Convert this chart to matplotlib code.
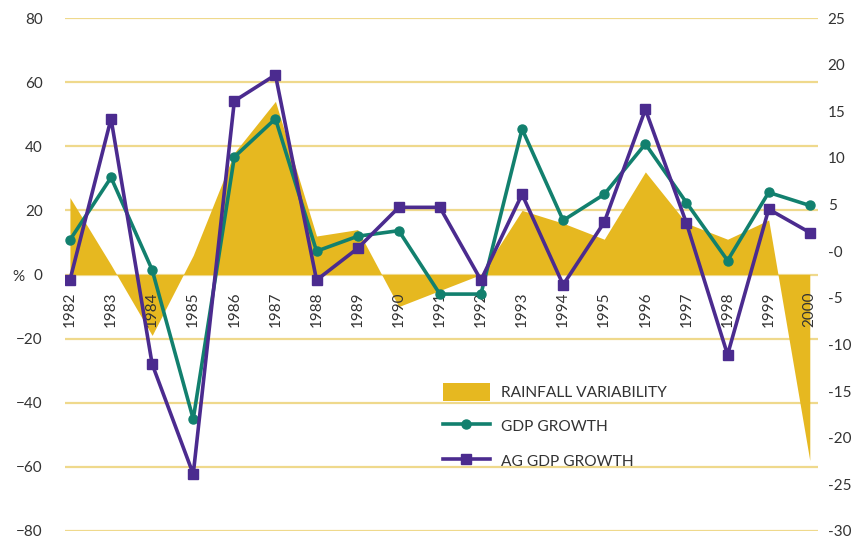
import numpy as np
import matplotlib.pyplot as plt
from matplotlib.patches import Patch
from matplotlib.lines import Line2D

plt.rcParams['font.family'] = ['Lato', 'DejaVu Sans']

years = [str(y) for y in range(1982, 2001)]
# rainfall variability, % (left axis)
rainfall = [24, 3, -19, 6, 38, 54, 12, 14, -10, -5, 0, 20, 16, 11, 32, 16, 11, 17, -58]
# growth rates, % (right axis)
gdp_growth = [1.2, 7.9, -2.0, -18.0, 10.1, 14.2, 0.0, 1.6, 2.2, -4.6, -4.6, 13.1,
              3.3, 6.1, 11.5, 5.2, -1.0, 6.3, 4.9]
ag_gdp_growth = [-3.1, 14.2, -12.1, -23.9, 16.1, 18.9, -3.1, 0.3, 4.7, 4.7, -3.1, 6.1,
                 -3.6, 3.1, 15.2, 3.0, -11.1, 4.5, 2.0]

left_ticks = list(range(-80, 81, 20))
right_ticks = list(range(-30, 26, 5))

GOLD = '#E6B820'
GRID = '#EFD98C'
GREEN = '#12806E'
PURPLE = '#4B2B8F'
TEXT = '#333333'

fig = plt.figure(figsize=(8.52, 5.39), dpi=100)
ax = fig.add_axes([65 / 852, 1 - 531 / 539, (818 - 65) / 852, (531 - 18) / 539])
x = np.arange(len(years))

ax.fill_between(x, rainfall, 0, color=GOLD, linewidth=0, zorder=2)
ax.set_xlim(-0.12, 18.2)
ax.set_ylim(-80, 80)
ax.set_yticks(left_ticks)
ax.set_xticks([])
ax.grid(axis='y', color=GRID, linewidth=1.6, zorder=0)
ax.set_axisbelow(True)
ax.tick_params(axis='y', length=0, pad=16, labelsize=11, labelcolor=TEXT)
for s in ax.spines.values():
    s.set_visible(False)

for i, yr in enumerate(years):
    ax.annotate(yr, (i, 0), xytext=(0, -12), textcoords='offset points',
                rotation=90, ha='center', va='top', fontsize=11, color=TEXT, zorder=3)

ax2 = ax.twinx()
ax2.set_ylim(-30, 25)
ax2.set_yticks(right_ticks)
ax2.set_yticklabels(['-0' if t == 0 else str(t) for t in right_ticks])
ax2.tick_params(axis='y', length=0, pad=7, labelsize=11, labelcolor=TEXT)
for s in ax2.spines.values():
    s.set_visible(False)

ax2.plot(x, gdp_growth, color=GREEN, linewidth=2.6, marker='o', markersize=6.5, zorder=4)
ax2.plot(x, ag_gdp_growth, color=PURPLE, linewidth=2.6, marker='s', markersize=7.5, zorder=5)

fig.text(18 / 852, 1 - 277 / 539, '%', ha='center', va='center', fontsize=11, color=TEXT)

handles = [
    Patch(facecolor=GOLD, edgecolor='none'),
    Line2D([], [], color=GREEN, linewidth=2.6, marker='o', markersize=6.5),
    Line2D([], [], color=PURPLE, linewidth=2.6, marker='s', markersize=7.5),
]
labels = ['RAINFALL VARIABILITY', 'GDP GROWTH', 'AG GDP GROWTH']
leg = ax2.legend(handles, labels, loc='upper left', bbox_to_anchor=(443 / 852, 1 - 383 / 539),
                 bbox_transform=fig.transFigure, frameon=False, fontsize=11.2,
                 handlelength=3.0, handleheight=1.4, handletextpad=0.7,
                 labelspacing=1.05, borderpad=0, borderaxespad=0)
for t in leg.get_texts():
    t.set_color(TEXT)

fig.savefig('out.png', dpi=100)
